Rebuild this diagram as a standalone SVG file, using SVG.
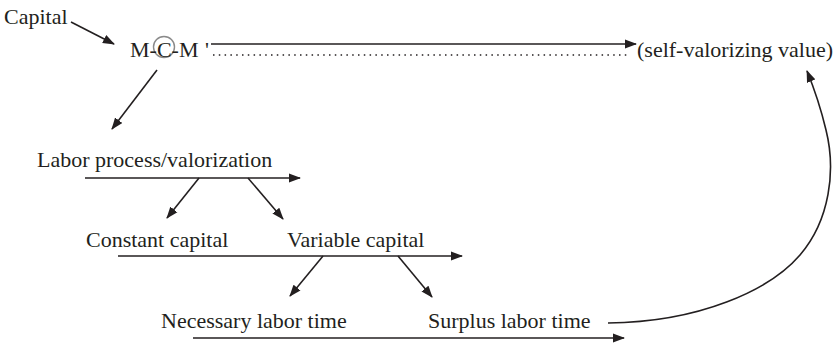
<svg xmlns="http://www.w3.org/2000/svg" width="838" height="344" viewBox="0 0 838 344">
<style>
text{font-family:'Liberation Serif','Times New Roman',serif;font-size:22px;fill:#231f20}
.c{stroke:#231f20;stroke-width:1.6;fill:none}
.a{marker-end:url(#ah)}
.dot{stroke:#231f20;stroke-width:1.6;stroke-dasharray:1.5 4.3;fill:none}
</style>
<defs>
<marker id="ah" viewBox="0 0 12 10" refX="11" refY="5" markerWidth="12" markerHeight="10" markerUnits="userSpaceOnUse" orient="auto">
<path d="M0,0.5 L12,5 L0,9.5 z" fill="#231f20"/>
</marker>
</defs>
<rect width="838" height="344" fill="#fff"/>
<g id="capital"><text x="4" y="24">Capital</text></g>
<g id="mcm">
<circle cx="164" cy="47" r="10.5" fill="none" stroke="#8a8a8a" stroke-width="1.4"/>
<text x="130" y="57">M-C-M<tspan x="205">'</tspan></text>
</g>
<g id="value"><text x="637" y="57">(self-valorizing value)</text></g>
<g id="labor"><text x="37" y="167">Labor process/valorization</text></g>
<g id="constant"><text x="86" y="247">Constant capital</text></g>
<g id="variable"><text x="287" y="247">Variable capital</text></g>
<g id="necessary"><text x="161" y="328">Necessary labor time</text></g>
<g id="surplus"><text x="428" y="328">Surplus labor time</text></g>
<g id="connectors">
<line class="c a" x1="71" y1="22" x2="114" y2="44"/>
<line class="c a" x1="211" y1="44" x2="636" y2="44"/>
<line class="dot" x1="213" y1="55" x2="630" y2="55"/>
<line class="c a" x1="157" y1="70" x2="112" y2="129"/>
<line class="c a" x1="85" y1="178" x2="300" y2="178"/>
<line class="c a" x1="199" y1="178" x2="167" y2="218"/>
<line class="c a" x1="248" y1="178" x2="283" y2="219"/>
<line class="c a" x1="118" y1="256" x2="462" y2="256"/>
<line class="c a" x1="323" y1="256" x2="290" y2="296"/>
<line class="c a" x1="398" y1="256" x2="432" y2="297"/>
<line class="c a" x1="193" y1="338" x2="624" y2="338"/>
<path class="c a" d="M608,323 C700,322 770,290 800,255 C830,220 836,170 826,130 C820,105 814,88 807,71"/>
</g>
</svg>
